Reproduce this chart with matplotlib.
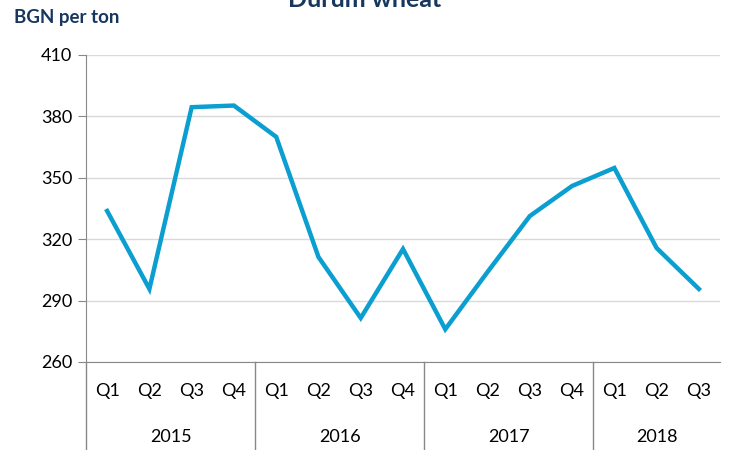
import numpy as np
import matplotlib.pyplot as plt

quarters = ['Q1', 'Q2', 'Q3', 'Q4', 'Q1', 'Q2', 'Q3', 'Q4',
            'Q1', 'Q2', 'Q3', 'Q4', 'Q1', 'Q2', 'Q3']
years = ['2015', '2016', '2017', '2018']
year_counts = [4, 4, 4, 3]
prices = [333.8, 295.7, 384.5, 385.3, 370.0, 311.3, 281.5, 315.2,
          276.0, 304.0, 331.3, 346.0, 354.8, 315.7, 295.7]

plt.rcParams['font.family'] = ['Lato', 'DejaVu Sans']

fig = plt.figure(figsize=(7.29, 4.5), dpi=100)
ax = fig.add_axes([86 / 729, 1 - 362 / 450, 634 / 729, 307 / 450])

x = np.arange(len(prices))
ax.plot(x, prices, color='#0B9ED0', lw=3.2, solid_joinstyle='miter')

ax.set_xlim(-0.5, len(prices) - 0.5)
ax.set_ylim(260, 410)
ax.set_yticks(np.arange(260, 411, 30))
ax.tick_params(axis='y', labelsize=13, length=6, color='#888888', pad=4)
ax.grid(axis='y', color='#d9d9d9', lw=1)
ax.set_axisbelow(True)
for s in ['top', 'right']:
    ax.spines[s].set_visible(False)
ax.spines['left'].set_color('#888888')
ax.spines['bottom'].set_color('#888888')

# category axis: quarter labels and year groups
ax.set_xticks([])
for i, q in enumerate(quarters):
    ax.text(i, -0.095, q, transform=ax.get_xaxis_transform(),
            ha='center', va='center', fontsize=13)
start = 0
bounds = [-0.5]
for yr, n in zip(years, year_counts):
    ax.text(start + (n - 1) / 2, -0.245, yr, transform=ax.get_xaxis_transform(),
            ha='center', va='center', fontsize=13)
    start += n
    bounds.append(start - 0.5)
for b in bounds[:-1]:
    ax.plot([b, b], [0, -0.3], transform=ax.get_xaxis_transform(),
            color='#888888', lw=1, clip_on=False)

fig.text(14 / 729, 1 - 17 / 450, 'BGN per ton', fontsize=13.5, fontweight='bold',
         color='#17375E', ha='left', va='center')
fig.text(365 / 729, 1 + 1 / 450, 'Durum wheat', fontsize=18, fontweight='bold',
         color='#17375E', ha='center', va='center')

fig.savefig('out.png', dpi=100)
